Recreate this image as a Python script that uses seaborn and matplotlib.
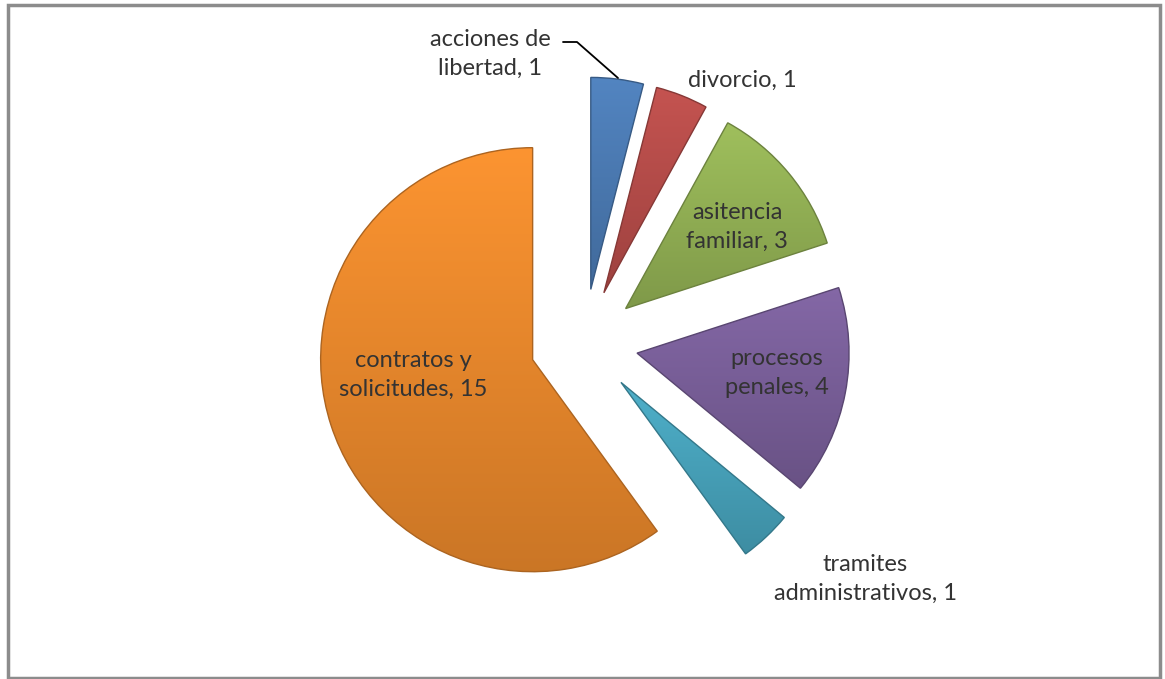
import matplotlib
matplotlib.use("Agg")
import matplotlib.pyplot as plt
import matplotlib.colors as mcolors
import numpy as np
import seaborn as sns

# data
categorias = ["acciones de\nlibertad, 1", "divorcio, 1", "asitencia\nfamiliar, 3",
              "procesos\npenales, 4", "tramites\nadministrativos, 1",
              "contratos y\nsolicitudes, 15"]
valores = [1, 1, 3, 4, 1, 15]
colores = ["#4F81BD", "#C0504D", "#9BBB59", "#8064A2", "#4BACC6", "#F7902E"]

# layout (pixel coords, y from top)
W, H = 1165, 679
centro = (584, 343)
radio = 212
separacion = 54
label_pos = [(490, 54), (742, 80), (737, 227), (777, 373), (865, 579), (413, 375)]

sns.set_theme(style="white")
plt.rcParams['font.family'] = ['Lato', 'DejaVu Sans']

fig = plt.figure(figsize=(W / 100, H / 100), dpi=100)
ax = fig.add_axes([0, 0, 1, 1])

wedges, _ = ax.pie(valores, colors=colores, startangle=90, counterclock=False,
                   explode=[separacion] * len(valores), radius=radio,
                   center=(centro[0], H - centro[1]), frame=True,
                   wedgeprops=dict(linewidth=0))
ax.set_xlim(0, W)
ax.set_ylim(0, H)
ax.set_aspect("equal")
ax.axis("off")

# gradient shading on each slice
grad = np.linspace(0, 1, 256).reshape(-1, 1)
for w, c in zip(wedges, colores):
    base = np.array(mcolors.to_rgb(c))
    light = np.clip(base * 1.01 + 0.01, 0, 1)
    dark = base * 0.82
    cmap = mcolors.LinearSegmentedColormap.from_list("g", [dark, light])
    bb = w.get_path().get_extents()
    im = ax.imshow(grad, cmap=cmap, origin="lower", aspect="auto",
                   extent=[bb.x0, bb.x1, bb.y0, bb.y1], zorder=w.get_zorder())
    im.set_clip_path(w)
    w.set_edgecolor(dark * 0.85)
    w.set_linewidth(1.0)
    w.set_zorder(w.get_zorder() + 0.1)
    w.set_facecolor("none")

for txt, (lx, ly) in zip(categorias, label_pos):
    ax.text(lx, H - ly, txt, ha="center", va="center", fontsize=17,
            color="#333333", linespacing=1.5, zorder=10)

# leader line for the first label
ax.plot([563, 577, 618], [H - 42, H - 42, H - 78], color="black", lw=1.3, zorder=9)

# outer frame
ax.add_patch(plt.Rectangle((8, 1), 1152, 673, fill=False, ec="#8c8c8c", lw=2.5,
                           zorder=20))

fig.savefig("out.png", dpi=100)
